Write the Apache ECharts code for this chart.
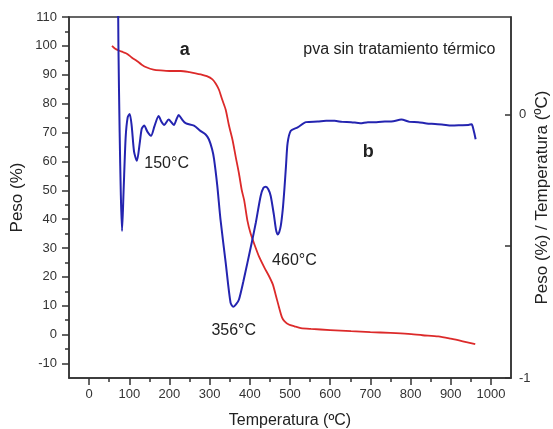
<!DOCTYPE html>
<html>
<head>
<meta charset="utf-8">
<script src="https://cdn.jsdelivr.net/npm/echarts@6/dist/echarts.min.js"></script>
<style>
  html, body { margin: 0; padding: 0; background: #fff; }
  #chart { width: 553px; height: 429px; }
</style>
</head>
<body>
<div id="chart"></div>
<script>
// tick values
const tempTicks = [0, 100, 200, 300, 400, 500, 600, 700, 800, 900, 1000];
const tempMinor = [50, 150, 250, 350, 450, 550, 650, 750, 850, 950];
const pesoTicks = [-10, 0, 10, 20, 30, 40, 50, 60, 70, 80, 90, 100, 110];
const pesoMinor = [-5, 5, 15, 25, 35, 45, 55, 65, 75, 85, 95, 105];
const rightTicks = [-1, -0.5, 0];
const rightLabels = [-1, 0];

// curva a: peso (%) vs temperatura
const pesoCurve = [
  [57, 100.0], [65, 99.0], [74, 98.4], [85, 97.8], [94, 97.3], [106, 96.0], [119, 94.8],
  [131, 93.5], [144, 92.5], [160, 91.8], [178, 91.5], [200, 91.3], [228, 91.3], [250, 90.9],
  [265, 90.5], [278, 90.1], [293, 89.5], [307, 88.4], [315, 87.0], [323, 84.9], [331, 81.5],
  [340, 77.9], [348, 72.5], [357, 67.4], [365, 61.5], [373, 55.8], [380, 50.0], [386, 46.5],
  [394, 39.5], [402, 35.0], [411, 31.4], [423, 27.0], [436, 23.3], [447, 20.5], [457, 17.5],
  [465, 13.5], [473, 9.3], [480, 6.0], [486, 4.7], [497, 3.5], [511, 2.9], [527, 2.3],
  [552, 2.0], [600, 1.6], [652, 1.2], [700, 0.9], [750, 0.6], [794, 0.25], [830, -0.2],
  [869, -0.6], [900, -1.4], [930, -2.3], [961, -3.3]
];

// curva b: eje derecho
const dtaCurve = [
  [71, 0.70], [73, 0.262], [76, -0.065], [79, -0.305], [82, -0.442], [86, -0.284], [91, -0.087],
  [96, -0.011], [101, 0.002], [106, -0.043], [112, -0.142], [119, -0.176], [126, -0.109],
  [131, -0.054], [137, -0.042], [145, -0.065], [154, -0.081], [163, -0.043], [173, -0.006],
  [180, -0.027], [187, -0.040], [198, -0.019], [211, -0.040], [218, -0.016], [223, -0.002],
  [230, -0.016], [240, -0.033], [261, -0.042], [277, -0.062], [290, -0.076], [298, -0.094],
  [306, -0.131], [311, -0.169], [319, -0.270], [327, -0.398], [340, -0.563], [352, -0.714],
  [359, -0.730], [366, -0.720], [373, -0.702], [384, -0.633], [394, -0.563], [405, -0.485],
  [415, -0.410], [427, -0.309], [434, -0.278], [440, -0.274], [446, -0.284], [452, -0.309],
  [460, -0.382], [465, -0.436], [469, -0.455], [473, -0.447], [477, -0.423], [482, -0.360],
  [486, -0.284], [490, -0.196], [494, -0.109], [502, -0.062], [519, -0.049], [540, -0.029],
  [569, -0.027], [590, -0.024], [611, -0.024], [630, -0.028], [652, -0.029], [675, -0.033],
  [694, -0.029], [715, -0.029], [736, -0.027], [757, -0.026], [777, -0.019], [798, -0.028],
  [819, -0.029], [840, -0.034], [861, -0.036], [882, -0.039], [902, -0.042], [925, -0.041],
  [944, -0.040], [952, -0.037], [957, -0.060], [962, -0.094]
];

// textos: [texto, temperatura, peso, negrita]
const notes = [
  ['a', 238, 98.6, true],
  ['b', 695, 63.2, true],
  ['pva sin tratamiento térmico', 772, 98.8, false],
  ['150°C', 193, 59.2, false],
  ['356°C', 360, 1.4, false],
  ['460°C', 511, 25.7, false]
];

const font = 'Liberation Sans, Arial, sans-serif';
const axisColor = '#333';
const plain = function (v) { return String(v); };

var chart = echarts.init(document.getElementById('chart'), null, { renderer: 'canvas' });

var option = {
  animation: false,
  grid: {
    left: 69, right: 42, top: 17, bottom: 51,
    outerBoundsMode: 'none',
    containLabel: false,
    show: true, borderColor: axisColor, borderWidth: 1.5
  },
  xAxis: [{
    type: 'value', min: -50, max: 1050, position: 'bottom',
    name: 'Temperatura (ºC)', nameLocation: 'middle', nameGap: 35,
    nameTextStyle: { fontFamily: font, fontSize: 16, color: '#222' },
    axisLine: { show: true, onZero: false, lineStyle: { color: axisColor, width: 1.5 } },
    axisTick: { show: true, length: 7, customValues: tempTicks, lineStyle: { color: axisColor, width: 1.5 } },
    axisLabel: { customValues: tempTicks, formatter: plain, margin: 10, fontFamily: font, fontSize: 13, color: '#333' },
    splitLine: { show: false }
  }, {
    type: 'value', min: -50, max: 1050, position: 'bottom',
    axisLine: { show: false, onZero: false },
    axisTick: { show: true, length: 4, customValues: tempMinor, lineStyle: { color: axisColor, width: 1.5 } },
    axisLabel: { show: false },
    splitLine: { show: false }
  }],
  yAxis: [{
    type: 'value', min: -15, max: 110, position: 'left',
    name: 'Peso (%)', nameLocation: 'middle', nameGap: 43, nameMoveOverlap: false,
    nameTextStyle: { fontFamily: font, fontSize: 17, color: '#222' },
    axisLine: { show: true, onZero: false, lineStyle: { color: axisColor, width: 1.5 } },
    axisTick: { show: true, length: 7, customValues: pesoTicks, lineStyle: { color: axisColor, width: 1.5 } },
    axisLabel: { customValues: pesoTicks, formatter: plain, margin: 12, fontFamily: font, fontSize: 13, color: '#333' },
    splitLine: { show: false }
  }, {
    type: 'value', min: -1, max: 0.37, position: 'right',
    name: 'Peso (%) / Temperatura (ºC)', nameLocation: 'middle', nameGap: 23, nameMoveOverlap: false,
    nameTextStyle: { fontFamily: font, fontSize: 17, color: '#222' },
    axisLine: { show: true, onZero: false, lineStyle: { color: axisColor, width: 1.5 } },
    axisTick: { show: true, inside: true, length: 6, customValues: rightTicks, lineStyle: { color: axisColor, width: 1.5 } },
    axisLabel: { customValues: rightLabels, formatter: plain, margin: 8, fontFamily: font, fontSize: 13, color: '#333' },
    splitLine: { show: false }
  }, {
    type: 'value', min: -15, max: 110, position: 'left',
    axisLine: { show: false, onZero: false },
    axisTick: { show: true, length: 4, customValues: pesoMinor, lineStyle: { color: axisColor, width: 1.5 } },
    axisLabel: { show: false },
    splitLine: { show: false }
  }],
  series: [{
    type: 'line',
    xAxisIndex: 0, yAxisIndex: 1,
    data: dtaCurve,
    smooth: 0.25,
    symbol: 'none',
    clip: true,
    lineStyle: { color: '#2424b0', width: 2 },
    z: 3
  }, {
    type: 'line',
    xAxisIndex: 0, yAxisIndex: 0,
    data: pesoCurve,
    smooth: 0.25,
    symbol: 'none',
    lineStyle: { color: '#dc2a2a', width: 1.8 },
    z: 2,
    markPoint: {
      symbol: 'circle', symbolSize: 1,
      itemStyle: { color: 'rgba(0,0,0,0)' },
      data: notes.map(function (n) {
        return {
          name: n[0], coord: [n[1], n[2]],
          label: {
            show: true, position: 'inside', formatter: '{b}',
            fontFamily: font, fontSize: n[3] ? 18 : 16,
            fontWeight: n[3] ? 'bold' : 'normal', color: '#222'
          }
        };
      })
    }
  }]
};

chart.setOption(option);
</script>
</body>
</html>
